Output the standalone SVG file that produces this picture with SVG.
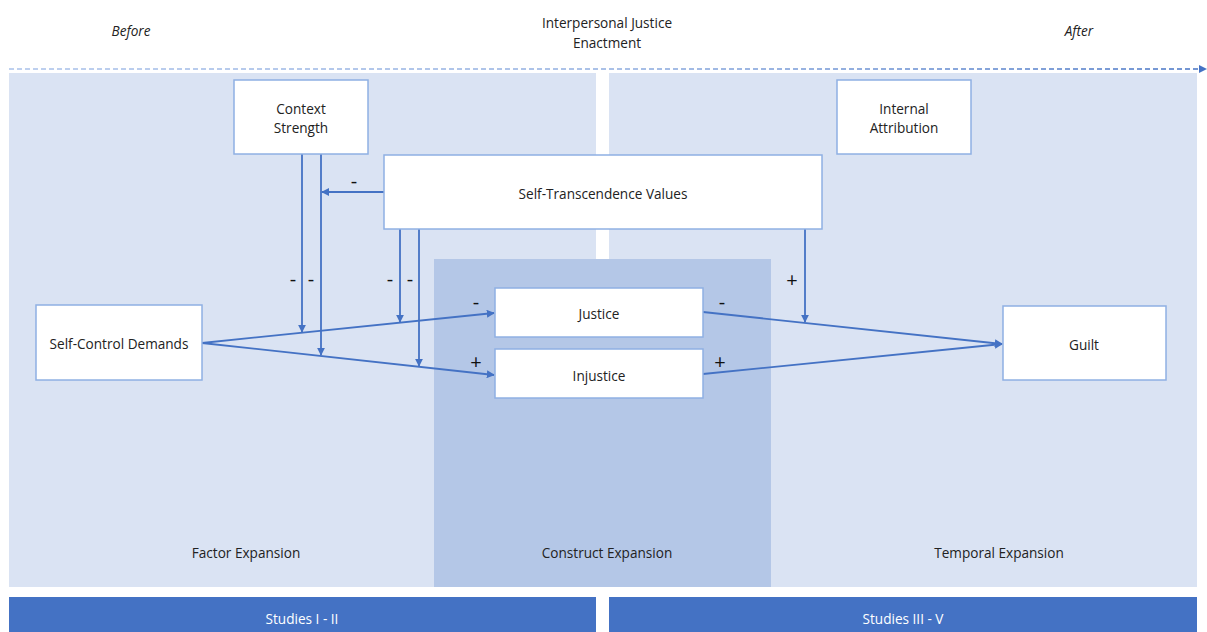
<svg xmlns="http://www.w3.org/2000/svg" width="1207" height="632" viewBox="0 0 1207 632">
<defs>
<linearGradient id="dash" gradientUnits="userSpaceOnUse" x1="9" y1="69" x2="1200" y2="69">
<stop offset="0" stop-color="#A9C1EA"/>
<stop offset="0.5" stop-color="#8FADE0"/>
<stop offset="1" stop-color="#4472C4"/>
</linearGradient>
<marker id="ah" viewBox="0 0 10 10" refX="9" refY="5" markerWidth="8" markerHeight="8" markerUnits="userSpaceOnUse" orient="auto">
<path d="M0,0 L10,5 L0,10 z" fill="#4472C4"/>
</marker>
</defs>
<style>
text{font-family:"Open Sans","Liberation Sans",sans-serif;font-size:13.6px;fill:#222;text-anchor:middle;dominant-baseline:central}
.it{font-style:italic}
.node{fill:#fff;stroke:#8FB0E3;stroke-width:1.5}
.edge{stroke:#4472C4;stroke-width:1.8;fill:none;marker-end:url(#ah)}
.sign{font-size:20px;fill:#111}
.bar{fill:#4472C4}
.bt{fill:#fff}
</style>
<rect width="1207" height="632" fill="#fff"/>
<g id="panels">
<rect x="9" y="73" width="587" height="514" fill="#DAE3F3"/>
<rect x="609" y="73" width="588" height="514" fill="#DAE3F3"/>
<rect x="434" y="259" width="337" height="328" fill="#B4C7E7"/>
</g>
<g id="timeline">
<line x1="9" y1="69" x2="1200" y2="69" stroke="url(#dash)" stroke-width="1.5" stroke-dasharray="5,3"/>
<path d="M1199,65 L1207,69 L1199,73 z" fill="#4472C4"/>
<text x="131" y="30" class="it">Before</text>
<text x="1079" y="30" class="it">After</text>
<text x="607" y="22">Interpersonal Justice</text>
<text x="607" y="42">Enactment</text>
</g>
<g id="panel-labels">
<text x="246" y="552">Factor Expansion</text>
<text x="607" y="552">Construct Expansion</text>
<text x="999" y="552">Temporal Expansion</text>
</g>
<g id="studies-1">
<rect class="bar" x="9" y="597" width="587" height="35"/>
<text class="bt" x="302" y="618">Studies I - II</text>
</g>
<g id="studies-2">
<rect class="bar" x="609" y="597" width="588" height="35"/>
<text class="bt" x="903" y="618">Studies III - V</text>
</g>
<g id="connectors">
<line class="edge" x1="202" y1="343" x2="494" y2="313"/>
<line class="edge" x1="202" y1="343" x2="494" y2="375"/>
<line class="edge" x1="703" y1="312" x2="1002" y2="344"/>
<line class="edge" x1="703" y1="374" x2="1002" y2="344"/>
<line class="edge" x1="302" y1="154" x2="302" y2="332"/>
<line class="edge" x1="321" y1="154" x2="321" y2="355"/>
<line class="edge" x1="384" y1="192" x2="322" y2="192"/>
<line class="edge" x1="400" y1="229" x2="400" y2="322"/>
<line class="edge" x1="419" y1="229" x2="419" y2="366"/>
<line class="edge" x1="805" y1="229" x2="805" y2="322"/>
</g>
<g id="signs">
<text class="sign" x="354" y="180">-</text>
<text class="sign" x="293" y="278">-</text>
<text class="sign" x="311" y="278">-</text>
<text class="sign" x="390" y="278">-</text>
<text class="sign" x="410" y="278">-</text>
<text class="sign" x="476" y="301">-</text>
<text class="sign" x="476" y="361">+</text>
<text class="sign" x="722" y="301">-</text>
<text class="sign" x="720" y="361">+</text>
<text class="sign" x="792" y="279">+</text>
</g>
<g id="context-strength">
<rect class="node" x="234" y="80" width="134" height="74"/>
<text x="301" y="108">Context</text>
<text x="301" y="127">Strength</text>
</g>
<g id="internal-attribution">
<rect class="node" x="837" y="80" width="134" height="74"/>
<text x="904" y="108">Internal</text>
<text x="904" y="127">Attribution</text>
</g>
<g id="self-transcendence">
<rect class="node" x="384" y="155" width="438" height="74"/>
<text x="603" y="193">Self-Transcendence Values</text>
</g>
<g id="self-control">
<rect class="node" x="36" y="305" width="166" height="75"/>
<text x="119" y="343">Self-Control Demands</text>
</g>
<g id="justice">
<rect class="node" x="495" y="288" width="208" height="49"/>
<text x="599" y="313">Justice</text>
</g>
<g id="injustice">
<rect class="node" x="495" y="349" width="208" height="49"/>
<text x="599" y="375">Injustice</text>
</g>
<g id="guilt">
<rect class="node" x="1003" y="306" width="163" height="74"/>
<text x="1084" y="344">Guilt</text>
</g>
</svg>
